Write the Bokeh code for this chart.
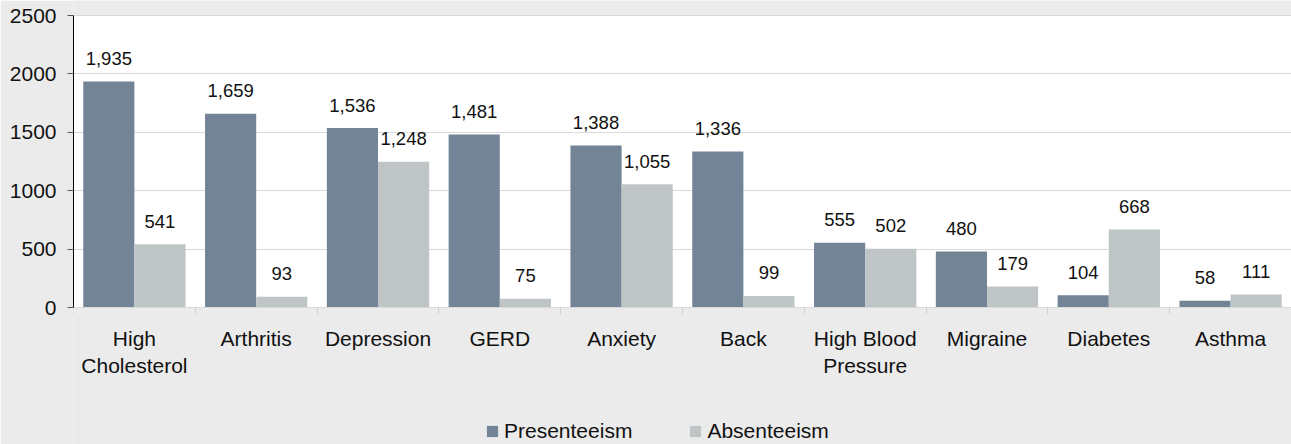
from bokeh.plotting import figure
from bokeh.models import Range1d, FixedTicker, Legend, LegendItem, ColumnDataSource, BoxAnnotation
from bokeh.core.properties import value
from bokeh.embed import file_html
from bokeh.resources import INLINE

categories = ["High\nCholesterol", "Arthritis", "Depression", "GERD", "Anxiety", "Back",
              "High Blood\nPressure", "Migraine", "Diabetes", "Asthma"]
presenteeism = [1935, 1659, 1536, 1481, 1388, 1336, 555, 480, 104, 58]
absenteeism = [541, 93, 1248, 75, 1055, 99, 502, 179, 668, 111]
y_ticks = [0, 500, 1000, 1500, 2000, 2500]

FONT = "Liberation Sans"
C_PRES = "#738497"
C_ABS = "#bfc5c6"
BG = "#ebebeb"

n = len(categories)
centers = [i + 0.5 for i in range(n)]
bw = 0.42
off = 0.21

# frame covers the whole picture height; value 2500 sits 15px from top, 0 sits 137px from bottom
Y_MAX = 2500
per_px = Y_MAX / 292.0
y_lo = -137 * per_px
y_hi = Y_MAX + 15 * per_px

p = figure(frame_width=1218, frame_height=444,
           output_backend="svg", toolbar_location=None,
           x_range=Range1d(0, n), y_range=Range1d(y_lo, y_hi),
           min_border_left=73, min_border_right=0, min_border_top=0, min_border_bottom=0)
p.border_fill_color = BG
p.background_fill_color = BG
p.outline_line_color = None

p.add_layout(BoxAnnotation(left=0, right=n, bottom=0, top=Y_MAX, fill_color="white",
                           fill_alpha=1, line_color=None, level="image"))

src_p = ColumnDataSource(dict(x=[c - off for c in centers], top=presenteeism,
                              lab=[f"{v:,}" for v in presenteeism]))
src_a = ColumnDataSource(dict(x=[c + off for c in centers], top=absenteeism,
                              lab=[f"{v:,}" for v in absenteeism]))

r1 = p.vbar(x="x", top="top", width=bw, source=src_p, fill_color=C_PRES, line_color=None)
r2 = p.vbar(x="x", top="top", width=bw, source=src_a, fill_color=C_ABS, line_color=None)

for s in (src_p, src_a):
    p.text(x="x", y="top", text="lab", source=s, text_align="center",
           text_baseline="alphabetic", y_offset=-23, text_font=value(FONT),
           text_font_size="18.5px", text_color="#111111")

# x axis drawn at value 0
p.xaxis.fixed_location = 0
p.xaxis.ticker = FixedTicker(ticks=centers, minor_ticks=list(range(n + 1)))
p.xaxis.major_label_overrides = {c: lab for c, lab in zip(centers, categories)}
p.xaxis.major_tick_line_color = None
p.xaxis.minor_tick_line_color = "#d0d0d0"
p.xaxis.minor_tick_out = 7
p.xaxis.minor_tick_in = 0
p.xaxis.axis_line_color = "#d9d9d9"
p.xaxis.major_label_text_font = FONT
p.xaxis.major_label_text_font_size = "21px"
p.xaxis.major_label_text_color = "#111111"
p.xaxis.major_label_standoff = 12

p.yaxis.ticker = FixedTicker(ticks=y_ticks)
p.yaxis.bounds = (0, Y_MAX)
p.yaxis.minor_tick_line_color = None
p.yaxis.major_tick_out = 6
p.yaxis.major_tick_in = 0
p.yaxis.major_tick_line_color = "#555555"
p.yaxis.axis_line_color = "#000000"
p.yaxis.major_label_text_font = FONT
p.yaxis.major_label_text_font_size = "21px"
p.yaxis.major_label_text_color = "#111111"
p.yaxis.major_label_standoff = 11

p.xgrid.grid_line_color = None
p.ygrid.grid_line_color = "#d9d9d9"
p.ygrid.ticker = FixedTicker(ticks=y_ticks)

legend = Legend(items=[LegendItem(label="Presenteeism", renderers=[r1]),
                       LegendItem(label="Absenteeism", renderers=[r2])],
                orientation="horizontal", location=(412, 1),
                background_fill_alpha=0, border_line_color=None,
                label_text_font=FONT, label_text_font_size="21px",
                label_text_color="#111111", glyph_width=14, glyph_height=14,
                spacing=56, label_standoff=5, padding=0, margin=0)
p.add_layout(legend, "center")

open("out.html", "w").write(file_html(p, INLINE))
